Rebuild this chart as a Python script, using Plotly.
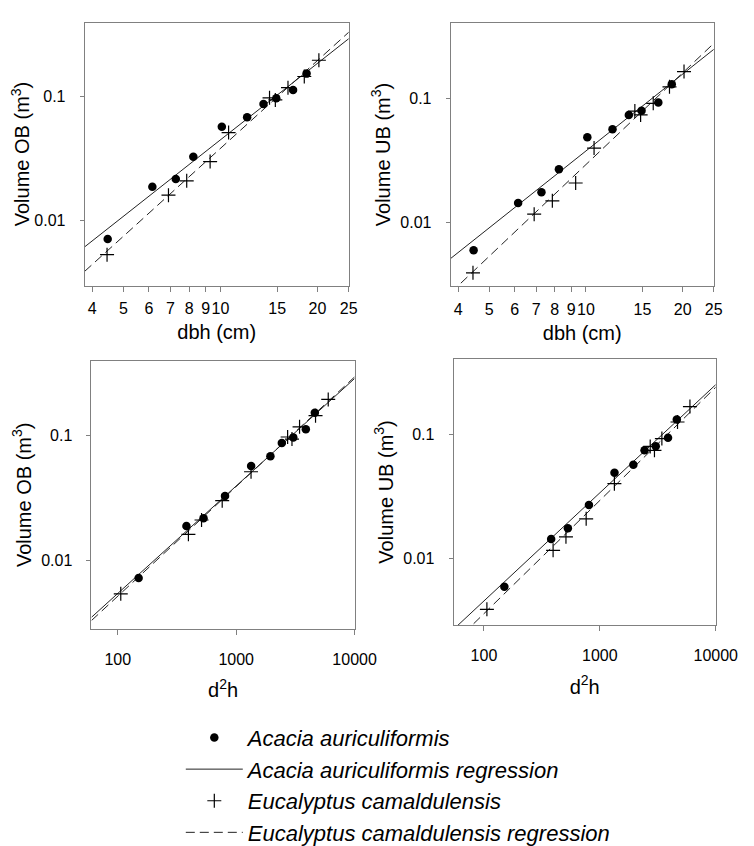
import numpy as np
import plotly.graph_objects as go

# ---------------- data ----------------
dbh_acacia = [4.47, 6.15, 7.27, 8.24, 10.1, 12.1, 13.6, 14.9, 16.8, 18.5]
vob_acacia = [0.00716, 0.0188, 0.0217, 0.0328, 0.0571, 0.0683, 0.0873, 0.097, 0.113, 0.153]
vub_acacia = [0.00597, 0.0144, 0.0176, 0.027, 0.049, 0.0567, 0.0741, 0.080, 0.0936, 0.131]
d2h_acacia = [150, 380, 530, 805, 1338, 1946, 2430, 3036, 3875, 4615]

dbh_euc = [4.45, 6.9, 7.86, 9.29, 10.6, 14.2, 14.8, 16.2, 18.2, 20.2]
vob_euc = [0.00535, 0.0161, 0.021, 0.030, 0.0513, 0.0977, 0.094, 0.118, 0.145, 0.196]
vub_euc = [0.00393, 0.0117, 0.0150, 0.0209, 0.040, 0.0796, 0.0741, 0.092, 0.125, 0.166]
d2h_euc = [106, 395, 510, 762, 1335, 2720, 2960, 3430, 4680, 5990]

# regression coefficients in log10 space: log10(V) = a + b*log10(x)
reg_acacia_a = [-3.393, -3.484, -3.998, -4.072]
reg_acacia_b = [2.045, 2.063, 0.8646, 0.867]
reg_euc_a = [-3.766, -3.992, -4.055, -4.255]
reg_euc_b = [2.349, 2.461, 0.882, 0.9076]

dbh_ticks = [4, 5, 6, 7, 8, 9, 10, 15, 20, 25]
d2h_ticks = [100, 1000, 10000]
vol_ticks = [0.01, 0.1]
vol_ticktext = ["0.01", "0.1"]

x_titles = ["dbh (cm)", "dbh (cm)", "d<sup>2</sup>h", "d<sup>2</sup>h"]
y_titles = ["Volume OB (m<sup>3</sup>)", "Volume UB (m<sup>3</sup>)",
            "Volume OB (m<sup>3</sup>)", "Volume UB (m<sup>3</sup>)"]

# ---------------- layout geometry ----------------
W, H = 754, 846
panels_px = [  # left, right, top, bottom in pixels
    (79, 351, 15, 287),
    (456, 727, 15, 288),
    (86, 357, 365, 642),
    (459, 729, 363, 638),
]
x_ranges = [[0.579, 1.398], [0.579, 1.398], [1.778, 4.0], [1.738, 4.0]]
y_ranges = [[-2.52, -0.404], [-2.516, -0.383], [-2.553, -0.398], [-2.53, -0.398]]

xs = [dbh_acacia, dbh_acacia, d2h_acacia, d2h_acacia]
ys = [vob_acacia, vub_acacia, vob_acacia, vub_acacia]
xe = [dbh_euc, dbh_euc, d2h_euc, d2h_euc]
ye = [vob_euc, vub_euc, vob_euc, vub_euc]

FONT = "Arial, Liberation Sans, sans-serif"
fig = go.Figure()

for i in range(4):
    ax = "" if i == 0 else str(i + 1)
    xref, yref = "x" + ax, "y" + ax
    lx = np.array([10 ** x_ranges[i][0], 10 ** x_ranges[i][1]])
    # regression lines
    fig.add_trace(go.Scatter(
        x=lx, y=10 ** (reg_acacia_a[i] + reg_acacia_b[i] * np.log10(lx)),
        mode="lines", line=dict(color="#222", width=1),
        name="Acacia auriculiformis regression", legendrank=2,
        showlegend=(i == 0), xaxis=xref, yaxis=yref))
    fig.add_trace(go.Scatter(
        x=lx, y=10 ** (reg_euc_a[i] + reg_euc_b[i] * np.log10(lx)),
        mode="lines", line=dict(color="#222", width=1, dash="9px,5px"),
        name="Eucalyptus camaldulensis regression", legendrank=4,
        showlegend=(i == 0), xaxis=xref, yaxis=yref))
    # points
    fig.add_trace(go.Scatter(
        x=xs[i], y=ys[i], mode="markers",
        marker=dict(symbol="circle", size=8.5, color="black"),
        name="Acacia auriculiformis", legendrank=1,
        showlegend=(i == 0), xaxis=xref, yaxis=yref))
    fig.add_trace(go.Scatter(
        x=xe[i], y=ye[i], mode="markers",
        marker=dict(symbol="cross-thin", size=10, color="black",
                    line=dict(color="black", width=1.2)),
        name="Eucalyptus camaldulensis", legendrank=3,
        showlegend=(i == 0), xaxis=xref, yaxis=yref))

layout = dict(
    width=W, height=H, margin=dict(l=0, r=0, t=0, b=0),
    paper_bgcolor="white", plot_bgcolor="white",
    font=dict(family=FONT, color="black", size=16),
    legend=dict(
        x=178 / W, y=1 - 733 / H, xanchor="left", yanchor="top",
        font=dict(family=FONT, size=22, style="italic", color="black"),
        bgcolor="rgba(0,0,0,0)", itemwidth=57, tracegroupgap=0,
    ),
)
for i in range(4):
    l, r, t, b = panels_px[i]
    ax = "" if i == 0 else str(i + 1)
    tv = dbh_ticks if i < 2 else d2h_ticks
    layout["xaxis" + ax] = dict(
        type="log", range=x_ranges[i], domain=[l / W, r / W],
        anchor="y" + ax, tickvals=tv, ticktext=[str(v) for v in tv],
        tickangle=0,
        ticks="outside", ticklen=5, tickcolor="#808080",
        showline=True, linecolor="#808080", linewidth=1, mirror=True,
        showgrid=False, zeroline=False,
        tickfont=dict(size=16, color="black"),
        ticklabelstandoff=(3 if i < 2 else 11),
        title=dict(text=x_titles[i], font=dict(size=20),
                   standoff=(9 if i < 2 else 16)),
    )
    layout["yaxis" + ax] = dict(
        type="log", range=y_ranges[i], domain=[1 - b / H, 1 - t / H],
        anchor="x" + ax, tickvals=vol_ticks, ticktext=vol_ticktext,
        ticks="outside", ticklen=4, tickcolor="#808080",
        showline=True, linecolor="#808080", linewidth=1, mirror=True,
        showgrid=False, zeroline=False,
        tickfont=dict(size=16, color="black"), ticklabelstandoff=11,
        title=dict(text=y_titles[i], font=dict(size=20), standoff=4),
    )
fig.update_layout(**layout)
fig.write_html("out.html")
